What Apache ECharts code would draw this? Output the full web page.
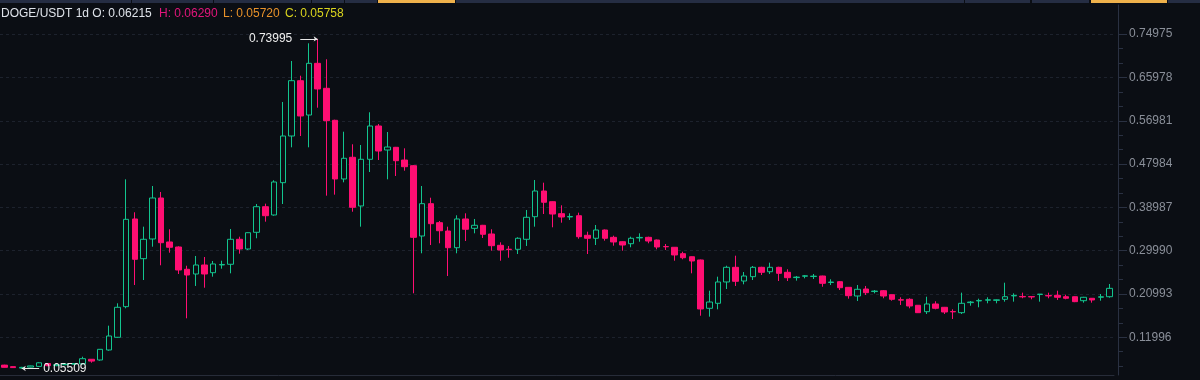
<!DOCTYPE html>
<html>
<head>
<meta charset="utf-8">
<script src="https://cdn.jsdelivr.net/npm/echarts@6/dist/echarts.min.js"></script>
<style>
html,body{margin:0;padding:0;background:#0b0e14;}
#chart{width:1200px;height:380px;}
</style>
</head>
<body>
<div id="chart"></div>
<script>
// ---- data ----
const opens = [0.06215,0.0590,0.0560,0.0580,0.0595,0.0655,0.0610,0.0630,0.0640,0.0648,
0.0743,0.0728,0.0936,0.1200,0.1836,0.3658,0.2833,0.3242,0.4094,0.3180,
0.3076,0.2613,0.2515,0.2702,0.2542,0.2703,0.2717,0.3236,0.3034,0.3381,
0.3913,0.3741,0.4412,0.5382,0.6531,0.5818,0.6892,0.6373,0.5708,0.4489,
0.4940,0.3928,0.4898,0.5590,0.5091,0.5147,0.4883,0.4765,0.3304,0.3976,
0.3581,0.3408,0.3061,0.3658,0.3464,0.3527,0.3346,0.3111,0.3030,0.3028,
0.3236,0.3705,0.4239,0.4017,0.3768,0.3700,0.3726,0.3319,0.3257,0.3429,
0.3277,0.3186,0.3144,0.3265,0.3277,0.3221,0.3085,0.3070,0.2937,0.2874,
0.2806,0.1802,0.1906,0.2349,0.2654,0.2369,0.2459,0.2654,0.2562,0.2654,
0.2550,0.2440,0.2468,0.2462,0.2473,0.2338,0.2355,0.2238,0.2058,0.2203,
0.2150,0.2168,0.2085,0.1980,0.1989,0.1865,0.1732,0.1892,0.1823,0.1736,
0.1711,0.1920,0.1955,0.1970,0.1968,0.1989,0.2060,0.2048,0.2045,0.2088,
0.2066,0.2072,0.2043,0.2043,0.1960,0.2010,0.2032,0.2043];
const closes = [0.05758,0.0570,0.0575,0.0605,0.0670,0.0610,0.0630,0.0640,0.0655,0.0755,
0.0705,0.0950,0.1227,0.1823,0.3651,0.2820,0.3236,0.4094,0.3165,0.3070,
0.2598,0.2494,0.2702,0.2515,0.2723,0.2713,0.3236,0.3034,0.3373,0.3913,
0.3726,0.4426,0.5382,0.6531,0.5798,0.6892,0.6359,0.5700,0.4489,0.4919,
0.3901,0.4898,0.5590,0.5070,0.5153,0.4869,0.4744,0.3277,0.3976,0.3560,
0.3414,0.3061,0.3658,0.3444,0.3527,0.3340,0.3103,0.3013,0.3022,0.3257,
0.3693,0.4239,0.4005,0.3761,0.3699,0.3710,0.3290,0.3257,0.3429,0.3257,
0.3180,0.3117,0.3257,0.3275,0.3200,0.3076,0.3080,0.2910,0.2853,0.2785,
0.1788,0.1933,0.2349,0.2654,0.2363,0.2473,0.2654,0.2550,0.2654,0.2529,
0.2438,0.2450,0.2478,0.2470,0.2321,0.2348,0.2230,0.2064,0.2197,0.2127,
0.2160,0.2058,0.1989,0.1972,0.1850,0.1711,0.1892,0.1802,0.1725,0.1728,
0.1906,0.1932,0.1965,0.1980,0.1978,0.2043,0.2070,0.2040,0.2038,0.2097,
0.2060,0.2031,0.2010,0.1940,0.2031,0.1975,0.2042,0.2217];
const lows = [0.05720,0.0565,0.05509,0.0575,0.0590,0.0600,0.0600,0.0620,0.0630,0.0640,
0.0672,0.0714,0.0921,0.1190,0.1802,0.2286,0.2390,0.3082,0.2696,0.2957,
0.2515,0.1594,0.2266,0.2230,0.2459,0.2625,0.2529,0.2937,0.3013,0.3257,
0.3602,0.3726,0.3969,0.5147,0.5382,0.5147,0.5970,0.4142,0.4163,0.4420,
0.3809,0.3498,0.4634,0.4883,0.4482,0.4551,0.4661,0.2114,0.2945,0.3117,
0.3153,0.2473,0.2945,0.3200,0.3360,0.3263,0.2999,0.2791,0.2853,0.2930,
0.3097,0.3498,0.3761,0.3485,0.3581,0.3637,0.3248,0.2930,0.3117,0.3207,
0.3103,0.2999,0.3070,0.3186,0.3153,0.3028,0.3013,0.2791,0.2820,0.2529,
0.1648,0.1628,0.1781,0.2203,0.2266,0.2301,0.2390,0.2494,0.2515,0.2369,
0.2369,0.2377,0.2425,0.2411,0.2250,0.2286,0.2182,0.2002,0.1954,0.2079,
0.2113,0.2010,0.1960,0.1871,0.1802,0.1705,0.1684,0.1781,0.1684,0.1580,
0.1684,0.1856,0.1823,0.1906,0.1906,0.1940,0.1940,0.2010,0.1989,0.1940,
0.2010,0.1975,0.1989,0.1930,0.1919,0.1919,0.1960,0.2023];
const highs = [0.06290,0.0595,0.0585,0.0610,0.0680,0.0665,0.0640,0.0650,0.0660,0.0797,
0.0748,0.0955,0.1441,0.1906,0.4482,0.3797,0.3498,0.4343,0.4219,0.3444,
0.3090,0.2687,0.2889,0.2868,0.2785,0.2791,0.3450,0.3290,0.3380,0.3969,
0.3976,0.4462,0.6089,0.6940,0.6635,0.7308,0.73995,0.6976,0.5720,0.5471,
0.5210,0.5195,0.5875,0.5631,0.5465,0.5155,0.5126,0.4780,0.4343,0.4100,
0.3616,0.3498,0.3734,0.3776,0.3658,0.3535,0.3444,0.3173,0.3097,0.3277,
0.3845,0.4468,0.4412,0.4025,0.3942,0.3776,0.3789,0.3394,0.3533,0.3440,
0.3311,0.3195,0.3290,0.3360,0.3290,0.3230,0.3138,0.3075,0.2978,0.2880,
0.2815,0.2168,0.2459,0.2687,0.2895,0.2556,0.2681,0.2665,0.2750,0.2665,
0.2613,0.2473,0.2494,0.2515,0.2480,0.2405,0.2365,0.2245,0.2286,0.2266,
0.2182,0.2182,0.2090,0.2031,0.2010,0.1870,0.2043,0.1948,0.1830,0.1781,
0.2127,0.1954,0.2002,0.2031,0.1985,0.2334,0.2113,0.2127,0.2050,0.2100,
0.2127,0.2168,0.2085,0.2048,0.2040,0.2015,0.2099,0.2307];
const majorTicks = [0.11996,0.20993,0.29990,0.38987,0.47984,0.56981,0.65978,0.74975];
const minorTicks = [0.05998,0.08997,0.14995,0.17994,0.23992,0.26991,0.32989,0.35988,
0.41986,0.44985,0.50983,0.53982,0.59980,0.62979,0.68977,0.71976];
const header = {pair:'DOGE/USDT 1d', o:'0.06215', h:'0.06290', l:'0.05720', c:'0.05758'};
const categories = opens.map((_, i) => 'D' + (i + 1));

// ---- build ----
const candles = opens.map((o, i) => [o, closes[i], lows[i], highs[i]]);
let hiIdx = 0, loIdx = 0;
highs.forEach((v, i) => { if (v > highs[hiIdx]) hiIdx = i; });
lows.forEach((v, i) => { if (v < lows[loIdx]) loIdx = i; });
const hiVal = highs[hiIdx], loVal = lows[loIdx];

const UP = '#12c48e', DOWN = '#ff0e72', BG = '#0b0e14';
const YMIN = 0.04163, YMAX = 0.81038;
const FONT = 'Liberation Sans, Arial, sans-serif';

// top toolbar strip (decoration): [x0, x1, colour]
const TAB = '#252d43', ACTIVE = '#efb14b';
const tabs = [[0,131,TAB],[132,213,TAB],[214,311,TAB],[312,344,TAB],[345,377,TAB],[378,455,ACTIVE],
  [456,964,TAB],[965,1030,TAB],[1032,1089,TAB],[1091,1167,ACTIVE],[1168,1200,TAB]];
const tabGraphics = tabs.map(t => ({type: 'rect', shape: {x: t[0], y: 0, width: t[1] - t[0], height: 3},
  style: {fill: t[2]}, silent: true, z: 10}));

const chart = echarts.init(document.getElementById('chart'), null, {renderer: 'canvas'});
chart.setOption({
  backgroundColor: BG,
  animation: false,
  grid: {left: -2, right: 86, top: 5, bottom: 5},
  xAxis: {
    type: 'category', data: categories, boundaryGap: true,
    axisLine: {show: true, lineStyle: {color: '#272c39', width: 1}},
    axisTick: {show: false}, axisLabel: {show: false}, splitLine: {show: false}
  },
  yAxis: [
    {
      type: 'value', position: 'right', offset: 4, min: YMIN, max: YMAX,
      axisLine: {show: true, lineStyle: {color: '#2a3142'}},
      axisTick: {show: true, length: 9, customValues: majorTicks, lineStyle: {color: '#2a3142'}},
      axisLabel: {customValues: majorTicks, formatter: v => v.toFixed(5), color: '#8a8f99',
                  fontSize: 12, fontFamily: FONT, margin: 11},
      splitLine: {show: true, lineStyle: {color: '#1d222d', type: [3, 3], width: 1}}
    },
    {
      type: 'value', position: 'right', offset: 4, min: YMIN, max: YMAX,
      axisLine: {show: false},
      axisTick: {show: true, length: 5, customValues: minorTicks, lineStyle: {color: '#2a3142'}},
      axisLabel: {show: false}, splitLine: {show: false}
    }
  ],
  series: [{
    type: 'candlestick',
    data: candles,
    barWidth: 6,
    itemStyle: {color: BG, color0: DOWN, borderColor: UP, borderColor0: DOWN, borderWidth: 1},
    markLine: {
      silent: true, animation: false, symbolSize: 4,
      lineStyle: {color: '#e6e6e6', width: 1, type: 'solid'},
      label: {color: '#eeeeee', fontSize: 12, fontFamily: FONT},
      data: [
        [{coord: [hiIdx - 2, hiVal], symbol: 'none',
          label: {position: 'start', distance: 8, formatter: hiVal.toFixed(5)}},
         {coord: [hiIdx, hiVal], symbol: 'arrow'}],
        [{coord: [loIdx, loVal], symbol: 'arrow'},
         {coord: [loIdx + 2, loVal], symbol: 'none',
          label: {position: 'end', distance: 4, formatter: loVal.toFixed(5)}}]
      ]
    }
  }],
  graphic: tabGraphics.concat([
    {type: 'text', x: 1, y: 14, style: {text: header.pair + ' O: ' + header.o, fill: '#dfe3ea', font: '12px ' + FONT, verticalAlign: 'middle'}},
    {type: 'text', x: 159, y: 14, style: {text: 'H: ' + header.h, fill: '#e3167c', font: '12px ' + FONT, verticalAlign: 'middle'}},
    {type: 'text', x: 223, y: 14, style: {text: 'L: ' + header.l, fill: '#e9922a', font: '12px ' + FONT, verticalAlign: 'middle'}},
    {type: 'text', x: 285, y: 14, style: {text: 'C: ' + header.c, fill: '#dad41e', font: '12px ' + FONT, verticalAlign: 'middle'}}
  ])
});
</script>
</body>
</html>
